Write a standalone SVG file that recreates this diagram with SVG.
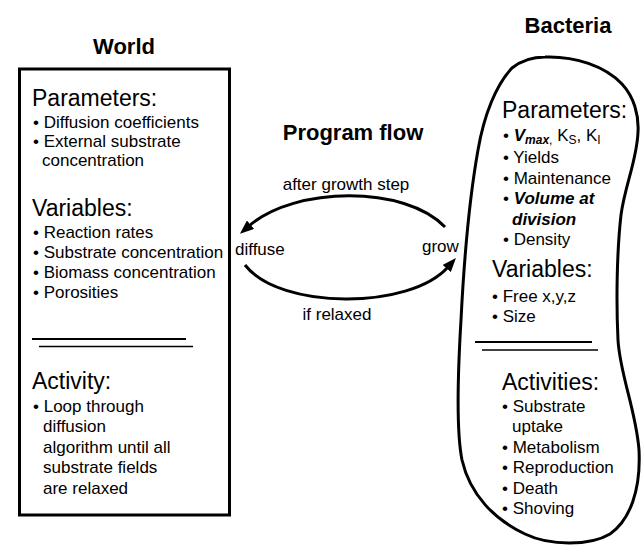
<svg xmlns="http://www.w3.org/2000/svg" width="644" height="546" viewBox="0 0 644 546">
<style>
text{font-family:"Liberation Sans",Arial,Helvetica,sans-serif;fill:#000}
.title{font-size:22px;font-weight:bold;text-anchor:middle}
.h{font-size:23px}
.b{font-size:17px}
.sub{font-size:12px}
.bi{font-weight:bold;font-style:italic}
.outline{fill:none;stroke:#000;stroke-width:3}
.rule{stroke:#000;stroke-width:2}
.rule2{stroke:#000;stroke-width:1.3}
.flow{fill:none;stroke:#000;stroke-width:3}
</style>
<defs>
<marker id="ah" viewBox="0 0 14 11" refX="2" refY="5.5" markerWidth="14" markerHeight="11" markerUnits="userSpaceOnUse" orient="auto">
<path d="M0,0 L14,5.5 L0,11 Z" fill="#000"/>
</marker>
</defs>
<rect width="644" height="546" fill="#fff"/>

<g id="world">
<text class="title" x="124" y="54">World</text>
<rect class="outline" x="19.5" y="69" width="210" height="446"/>
<text class="h" x="32" y="106">Parameters:</text>
<text class="b" x="33" y="128">• Diffusion coefficients</text>
<text class="b" x="33" y="147">• External substrate</text>
<text class="b" x="42" y="166">concentration</text>
<text class="h" x="32" y="216">Variables:</text>
<text class="b" x="33" y="238">• Reaction rates</text>
<text class="b" x="33" y="258">• Substrate concentration</text>
<text class="b" x="33" y="278">• Biomass concentration</text>
<text class="b" x="33" y="298">• Porosities</text>
<line class="rule" x1="32" y1="339" x2="186" y2="339"/>
<line class="rule2" x1="39" y1="346.5" x2="193" y2="346.5"/>
<text class="h" x="32" y="389">Activity:</text>
<text class="b" x="33" y="412">• Loop through</text>
<text class="b" x="43" y="432">diffusion</text>
<text class="b" x="43" y="453">algorithm until all</text>
<text class="b" x="43" y="473">substrate fields</text>
<text class="b" x="43" y="494">are relaxed</text>
</g>

<g id="bacteria">
<text class="title" x="568" y="33">Bacteria</text>
<path class="outline" d="M545,57 C575,56 605,66 622,84 C634,97 639,115 638,132 C637,160 625,185 621,215 C617,250 616,300 618,340 C620,375 636,410 639,450 C641,490 630,520 610,534 C590,546 550,546 525,534 C495,520 470,495 462,460 C456,430 458,370 461,320 C464,260 470,195 478,150 C484,115 496,85 512,68 C522,60 533,57 545,57 Z"/>
<text class="h" x="502" y="118">Parameters:</text>
<text class="b" x="503" y="141">• <tspan class="bi">V</tspan><tspan class="bi sub" dy="3">max</tspan><tspan class="sub">,</tspan><tspan dy="-3"> K</tspan><tspan class="sub" dy="3">S</tspan><tspan dy="-3">, K</tspan><tspan class="sub" dy="3">I</tspan></text>
<text class="b" x="503" y="163">• Yields</text>
<text class="b" x="503" y="184">• Maintenance</text>
<text class="b" x="503" y="204">• <tspan class="bi">Volume at</tspan></text>
<text class="b bi" x="512" y="225">division</text>
<text class="b" x="503" y="245">• Density</text>
<text class="h" x="492" y="277">Variables:</text>
<text class="b" x="492" y="302">• Free x,y,z</text>
<text class="b" x="492" y="322">• Size</text>
<line class="rule" x1="475" y1="342" x2="592" y2="342"/>
<line class="rule2" x1="482" y1="350" x2="598" y2="350"/>
<text class="h" x="502" y="390">Activities:</text>
<text class="b" x="502" y="412">• Substrate</text>
<text class="b" x="512" y="432">uptake</text>
<text class="b" x="502" y="453">• Metabolism</text>
<text class="b" x="502" y="473">• Reproduction</text>
<text class="b" x="502" y="494">• Death</text>
<text class="b" x="502" y="514">• Shoving</text>
</g>

<g id="program-flow">
<text class="title" x="353" y="140">Program flow</text>
</g>
<g id="diffuse">
<text class="b" x="235" y="255">diffuse</text>
</g>
<g id="grow">
<text class="b" x="422" y="252">grow</text>
</g>

<g id="connectors">
<path class="flow" d="M445,227 C405,185 295,186 249,226" marker-end="url(#ah)"/>
<text class="b" x="346" y="190" text-anchor="middle">after growth step</text>
<path class="flow" d="M245,265 C280,310 410,310 448,267" marker-end="url(#ah)"/>
<text class="b" x="337" y="320" text-anchor="middle">if relaxed</text>
</g>
</svg>
